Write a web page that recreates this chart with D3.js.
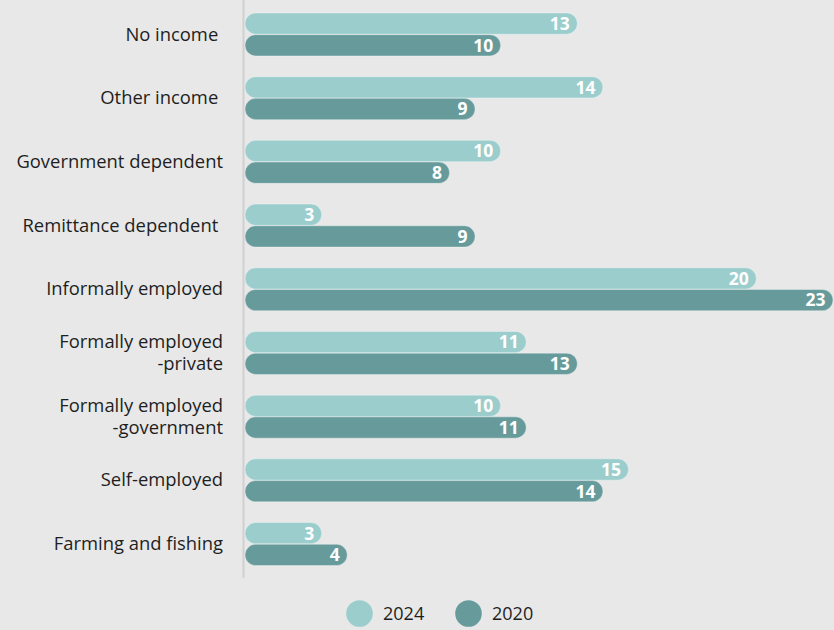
<!DOCTYPE html>
<html>
<head>
<meta charset="utf-8">
<script src="https://cdn.jsdelivr.net/npm/d3@7/dist/d3.min.js"></script>
<style>
  html, body { margin: 0; padding: 0; background: #e8e8e8; }
  svg { display: block; font-family: "Open Sans", sans-serif; }
  text { white-space: pre; }
</style>
</head>
<body>
<svg id="chart" width="834" height="630"></svg>
<script>
// Income source categories, top to bottom (lines split with "\n")
const categories = [
  "No income ",
  "Other income ",
  "Government dependent",
  "Remittance dependent ",
  "Informally employed",
  "Formally employed\n-private",
  "Formally employed\n-government",
  "Self-employed",
  "Farming and fishing"
];
const seriesNames = ["2024", "2020"];
const values2024 = [13, 14, 10, 3, 20, 11, 10, 15, 3];
const values2020 = [10, 9, 8, 9, 23, 13, 11, 14, 4];
const seriesColors = ["#9bcdcd", "#679b9b"];

const rows = categories.map((c, i) => ({
  category: c,
  bars: [
    { series: seriesNames[0], value: values2024[i] },
    { series: seriesNames[1], value: values2020[i] }
  ]
}));

const svg = d3.select("#chart");

const x = d3.scaleLinear().domain([0, 23]).range([245, 833]);

const y = d3.scaleBand()
  .domain(categories)
  .range([2.6, 575.9])
  .paddingInner(0.325)
  .paddingOuter(0.1625);

const yInner = d3.scaleBand()
  .domain(seriesNames)
  .range([0, y.bandwidth()])
  .paddingInner(0.02);

const color = d3.scaleOrdinal().domain(seriesNames).range(seriesColors);

// baseline axis
svg.append("line")
  .attr("x1", 243.5).attr("x2", 243.5)
  .attr("y1", 0).attr("y2", 578)
  .attr("stroke", "#d0d0d0")
  .attr("stroke-width", 2);

const groups = svg.selectAll("g.row")
  .data(rows)
  .join("g")
  .attr("class", "row")
  .attr("transform", d => `translate(0,${y(d.category)})`);

// category labels
groups.each(function(d) {
  const lines = d.category.split("\n");
  const cy = y.bandwidth() / 2;
  const lh = 22;
  const t = d3.select(this).append("text")
    .attr("x", 223)
    .attr("text-anchor", "end")
    .attr("font-size", 18.4)
    .attr("fill", "#1e1e1e");
  lines.forEach((ln, i) => {
    t.append("tspan")
      .attr("x", 223)
      .attr("y", cy + (i - (lines.length - 1) / 2) * lh)
      .attr("dy", "0.33em")
      .text(ln);
  });
});

const h = yInner.bandwidth();

// pill-shaped bars
groups.selectAll("rect.bar")
  .data(d => d.bars)
  .join("rect")
  .attr("class", "bar")
  .attr("x", x(0))
  .attr("y", d => yInner(d.series))
  .attr("width", d => x(d.value) - x(0))
  .attr("height", h)
  .attr("rx", h / 2)
  .attr("ry", h / 2)
  .attr("fill", d => color(d.series))
  .attr("stroke", "rgba(255,255,255,0.35)")
  .attr("stroke-width", 1);

// value labels inside bar ends
groups.selectAll("text.val")
  .data(d => d.bars)
  .join("text")
  .attr("class", "val")
  .attr("x", d => x(d.value) - 7.5)
  .attr("y", d => yInner(d.series) + h / 2)
  .attr("dy", "0.36em")
  .attr("text-anchor", "end")
  .attr("font-size", 17.5)
  .attr("font-weight", 700)
  .attr("fill", "#ffffff")
  .text(d => d.value);

// legend
const legend = svg.append("g").selectAll("g")
  .data(seriesNames)
  .join("g")
  .attr("transform", (d, i) => `translate(${359.5 + i * 109},613.5)`);

legend.append("circle")
  .attr("r", 13.3)
  .attr("fill", d => color(d));

legend.append("text")
  .attr("x", 23.5)
  .attr("dy", "0.36em")
  .attr("font-size", 18)
  .attr("fill", "#1e1e1e")
  .text(d => d);
</script>
</body>
</html>
